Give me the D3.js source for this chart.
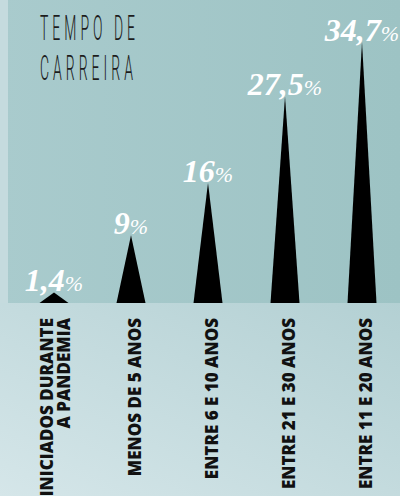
<!DOCTYPE html>
<html>
<head>
<meta charset="utf-8">
<script src="https://cdn.jsdelivr.net/npm/d3@7.9.0/dist/d3.min.js"></script>
<style>
  html, body { margin: 0; padding: 0; background: #c8dde0; }
  svg { display: block; }
</style>
</head>
<body>
<div id="chart"></div>
<script>
const categories = [
  ['INICIADOS DURANTE', 'A PANDEMIA'],
  ['MENOS DE 5 ANOS'],
  ['ENTRE 6 E 10 ANOS'],
  ['ENTRE 21 E 30 ANOS'],
  ['ENTRE 11 E 20 ANOS'],
];
const values = [1.4, 9, 16, 27.5, 34.7];
const valueLabels = ['1,4', '9', '16', '27,5', '34,7'];
const titleLines = ['TEMPO DE', 'CARREIRA'];

const width = 400;
const height = 496;
const baseY = 303;

const svg = d3.select('#chart')
  .append('svg')
  .attr('width', width)
  .attr('height', height);

const defs = svg.append('defs');

const topGrad = defs.append('linearGradient').attr('id', 'topGrad');
topGrad.append('stop').attr('offset', '0%').attr('stop-color', '#a9cbcd');
topGrad.append('stop').attr('offset', '100%').attr('stop-color', '#9dc3c4');

const botGrad = defs.append('linearGradient').attr('id', 'botGrad')
  .attr('x1', '0%').attr('y1', '100%').attr('x2', '100%').attr('y2', '0%');
botGrad.append('stop').attr('offset', '0%').attr('stop-color', '#d5e6e9');
botGrad.append('stop').attr('offset', '100%').attr('stop-color', '#b3d0d3');

// background panels
svg.append('rect')
  .attr('width', width).attr('height', baseY)
  .attr('fill', 'url(#topGrad)');
svg.append('rect')
  .attr('y', baseY).attr('width', width).attr('height', height - baseY)
  .attr('fill', 'url(#botGrad)');
svg.append('rect')
  .attr('width', 8).attr('height', baseY)
  .attr('fill', '#c5dbde');

// scales
const x = d3.scalePoint()
  .domain(d3.range(categories.length))
  .range([54, 362]);

const y = d3.scaleLinear()
  .domain([0, 34.7])
  .range([baseY, 42]);

const halfBase = 14.5;

// spikes
svg.append('g')
  .selectAll('path')
  .data(values)
  .join('path')
  .attr('d', (d, i) => {
    const cx = x(i);
    return `M${cx - halfBase},${y(0)} L${cx},${y(d)} L${cx + halfBase},${y(0)} Z`;
  })
  .attr('fill', '#000');

// value labels
const vl = svg.append('g')
  .selectAll('text')
  .data(values)
  .join('text')
  .attr('x', (d, i) => x(i))
  .attr('y', d => y(d) - 1)
  .attr('text-anchor', 'middle')
  .attr('fill', '#fff')
  .style('font-family', '"Liberation Serif", serif')
  .style('font-style', 'italic');

vl.append('tspan')
  .style('font-size', '32px')
  .style('font-weight', 'bold')
  .text((d, i) => valueLabels[i]);
vl.append('tspan')
  .style('font-size', '22px')
  .style('font-weight', 'normal')
  .text('%');

// category labels (rotated)
const cat = svg.append('g')
  .selectAll('g')
  .data(categories)
  .join('g')
  .attr('transform', (d, i) => `translate(${x(i)}, 318)`);

cat.each(function (lines) {
  const g = d3.select(this);
  const n = lines.length;
  lines.forEach((line, j) => {
    const off = n === 1 ? 10 : (j === 0 ? -1 : 16);
    g.append('text')
      .attr('transform', `translate(${off},0) rotate(-90)`)
      .attr('text-anchor', 'end')
      .attr('fill', '#111')
      .style('font-family', '"Open Sans", sans-serif')
      .style('font-weight', 800)
      .style('font-size', '17px')
      .text(line);
  });
});

// title
svg.append('g')
  .selectAll('text')
  .data(titleLines)
  .join('text')
  .attr('transform', (d, i) => `translate(40, ${40 + i * 40}) scale(0.4, 1)`)
  .attr('fill', '#1c1c1c')
  .style('font-family', 'Roboto, sans-serif')
  .style('font-weight', 300)
  .style('font-size', '35px')
  .style('letter-spacing', '10px')
  .text(d => d);
</script>
</body>
</html>
